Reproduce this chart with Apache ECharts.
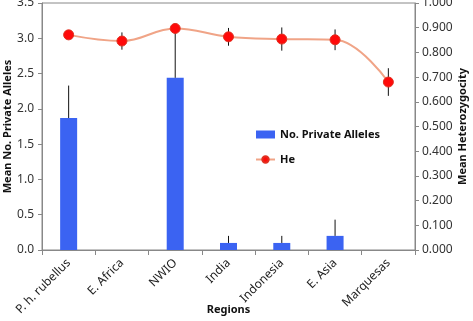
<!DOCTYPE html>
<html><head><meta charset="utf-8">
<script src="https://cdn.jsdelivr.net/npm/echarts@6/dist/echarts.min.js"></script>
<style>html,body{margin:0;padding:0;background:#fff}#c{width:473px;height:321px}</style>
</head><body><div id="c"></div>
<script>
var categories = ['P. h. rubellus','E. Africa','NWIO','India','Indonesia','E. Asia','Marquesas'];
var privateAlleles = [1.87, 0, 2.44, 0.10, 0.10, 0.20, 0];
var privateAllelesErr = [0.46, 0, 0.64, 0.10, 0.10, 0.23, 0];
var he = [0.871, 0.846, 0.897, 0.863, 0.854, 0.851, 0.680];
var heErr = [0.018, 0.035, 0.020, 0.036, 0.047, 0.042, 0.056];
var leftTicks = [0, 3.5, 0.5];
var rightTicks = [0, 1, 0.1];

var chart = echarts.init(document.getElementById('c'), null, {renderer:'canvas'});
var font = 'Noto Sans';
var barErrData = categories.map(function(c,i){return [i, privateAlleles[i], privateAlleles[i]+privateAllelesErr[i]];}).filter(function(d,i){return privateAllelesErr[i]>0;});
var heErrData = categories.map(function(c,i){return [i, he[i]-heErr[i], he[i]+heErr[i]];});
function errRender(params, api){
  var x = api.value(0);
  var p1 = api.coord([x, api.value(1)]);
  var p2 = api.coord([x, api.value(2)]);
  return {type:'line', shape:{x1:p1[0],y1:p1[1],x2:p2[0],y2:p2[1]}, style:{stroke:'#111', lineWidth:1}};
}
chart.setOption({
  animation:false,
  grid:{left:42,right:58,top:3,bottom:71,show:true,borderColor:'#888',borderWidth:1,outerBoundsMode:'none',containLabel:false},
  legend:{
    orient:'vertical', left:250, top:124, itemGap:14, itemWidth:19, itemHeight:8,
    textStyle:{fontFamily:font,fontSize:11,fontWeight:'bold',color:'#111'},
    data:[{name:'No. Private Alleles',icon:'rect'},{name:'He'}]
  },
  xAxis:{
    type:'category', data:categories, boundaryGap:true,
    axisLine:{lineStyle:{color:'#888'}},
    axisTick:{show:true, alignWithLabel:false, length:5, lineStyle:{color:'#888'}},
    axisLabel:{rotate:45, fontFamily:font, fontSize:12, color:'#222', margin:11},
    name:'Regions', nameLocation:'middle', nameGap:54, nameMoveOverlap:false,
    nameTextStyle:{fontFamily:font,fontSize:11,fontWeight:'bold',color:'#111'}
  },
  yAxis:[{
    type:'value', min:leftTicks[0], max:leftTicks[1], interval:leftTicks[2],
    axisLine:{show:true,lineStyle:{color:'#888'}},
    axisTick:{show:true,length:4,lineStyle:{color:'#888'}},
    splitLine:{show:false},
    axisLabel:{fontFamily:font,fontSize:12,color:'#333',margin:8,formatter:function(v){return v.toFixed(1);}},
    name:'Mean No. Private Alleles', nameLocation:'middle', nameGap:29, nameMoveOverlap:false,
    nameTextStyle:{fontFamily:font,fontSize:11,fontWeight:'bold',color:'#111'}
  },{
    type:'value', min:rightTicks[0], max:rightTicks[1], interval:rightTicks[2], position:'right',
    axisLine:{show:true,lineStyle:{color:'#888'}},
    axisTick:{show:true,length:4,lineStyle:{color:'#888'}},
    splitLine:{show:false},
    axisLabel:{fontFamily:font,fontSize:12,color:'#333',margin:7,formatter:function(v){return v.toFixed(3);}},
    name:'Mean Heterozygocity', nameLocation:'middle', nameGap:42, nameMoveOverlap:false,
    nameTextStyle:{fontFamily:font,fontSize:11,fontWeight:'bold',color:'#111'}
  }],
  series:[{
    name:'No. Private Alleles', type:'bar', data:privateAlleles, barWidth:17,
    itemStyle:{color:'#3b63f2'}, z:2
  },{
    type:'custom', renderItem:errRender, data:barErrData, yAxisIndex:0, z:3, silent:true
  },{
    type:'custom', renderItem:errRender, data:heErrData, yAxisIndex:1, z:4, silent:true
  },{
    name:'He', type:'line', yAxisIndex:1, data:he, smooth:0.4,
    symbol:'circle', symbolSize:10,
    lineStyle:{color:'#f0a487',width:2},
    itemStyle:{color:'#ff0a0a',borderColor:'#e03020',borderWidth:1},
    z:5
  }]
});
</script></body></html>
